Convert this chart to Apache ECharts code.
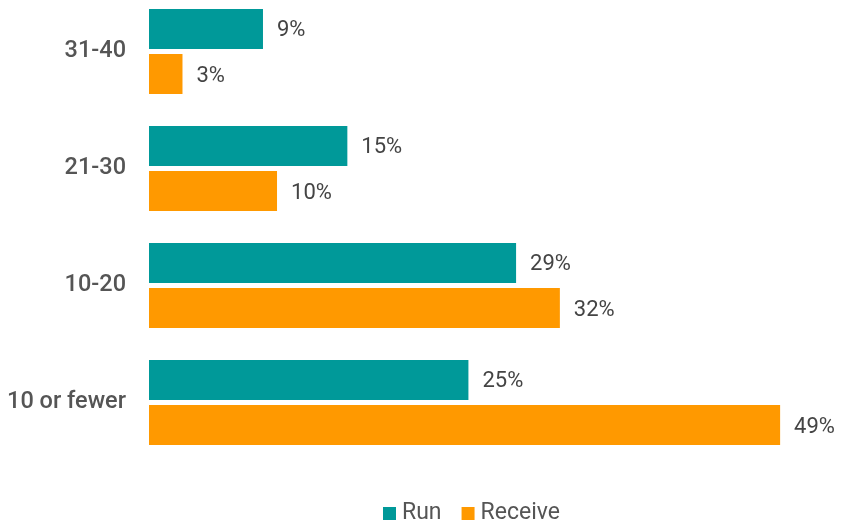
<!DOCTYPE html>
<html><head><meta charset="utf-8">
<script src="https://cdn.jsdelivr.net/npm/echarts@6/dist/echarts.min.js"></script>
<style>html,body{margin:0;padding:0;background:#fff}#c{width:841px;height:523px}</style>
</head><body><div id="c"></div>
<script>
const categories = ["10 or fewer", "10-20", "21-30", "31-40"];
const runValues = [24.8, 28.5, 15.4, 8.85];
const receiveValues = [49, 31.9, 9.94, 2.6];
const seriesNames = ["Run", "Receive"];
const colors = ["#009999", "#ff9900"];

const chart = echarts.init(document.getElementById('c'), null, {renderer: 'canvas'});
const labelCfg = {
  show: true, position: 'right', distance: 14, offset: [0, 2],
  fontFamily: 'Roboto', fontSize: 22, color: '#444',
  formatter: p => Math.round(p.value) + '%'
};
chart.setOption({
  animation: false,
  textStyle: {fontFamily: 'Roboto'},
  grid: {left: 149, width: 644, top: -7, height: 468, containLabel: false, outerBoundsMode: 'none'},
  legend: {
    data: seriesNames, left: 383, top: 502,
    icon: 'rect', itemWidth: 13, itemHeight: 13, itemGap: 20,
    textStyle: {fontFamily: 'Roboto', fontSize: 23, color: '#555', padding: [0, 0, 0, 1]},
    padding: 0
  },
  xAxis: {type: 'value', min: 0, max: 50, show: false},
  yAxis: {
    type: 'category', data: categories,
    axisLine: {show: false}, axisTick: {show: false},
    axisLabel: {fontFamily: 'Roboto', fontSize: 23.5, fontWeight: 500, color: '#555', margin: 23}
  },
  series: [
    {name: seriesNames[0], type: 'bar', data: runValues, itemStyle: {color: colors[0]},
     barGap: '12.5%', barCategoryGap: '27.35%', label: labelCfg, z: 3},
    {name: seriesNames[1], type: 'bar', data: receiveValues, itemStyle: {color: colors[1]},
     barGap: '12.5%', barCategoryGap: '27.35%', label: labelCfg}
  ]
});
</script></body></html>
